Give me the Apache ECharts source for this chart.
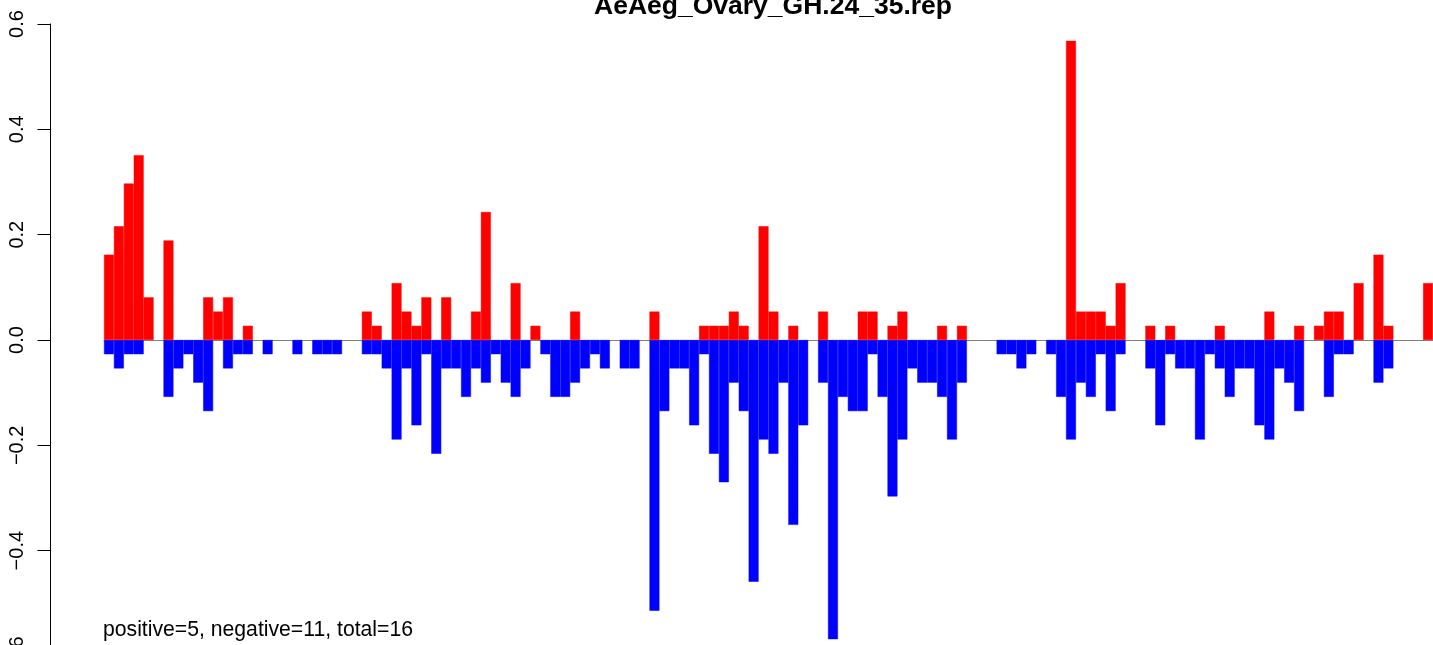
<!DOCTYPE html>
<html>
<head>
<meta charset="utf-8">
<script src="https://cdn.jsdelivr.net/npm/echarts@6/dist/echarts.min.js"></script>
<style>
html,body{margin:0;padding:0;background:#fff;}
#chart{width:1433px;height:645px;}
</style>
</head>
<body>
<div id="chart"></div>
<script>
var titleText = 'AeAeg_Ovary_GH.24_35.rep';
var noteText = 'positive=5, negative=11, total=16';
var yTicks = [-0.6, -0.4, -0.2, 0.0, 0.2, 0.4, 0.6];

var positiveValues = [
  0.162, 0.216, 0.297, 0.351, 0.081, 0, 0.189, 0, 0, 0,
  0.081, 0.054, 0.081, 0, 0.027, 0, 0, 0, 0, 0,
  0, 0, 0, 0, 0, 0, 0.054, 0.027, 0, 0.108,
  0.054, 0.027, 0.081, 0, 0.081, 0, 0, 0.054, 0.243, 0,
  0, 0.108, 0, 0.027, 0, 0, 0, 0.054, 0, 0,
  0, 0, 0, 0, 0, 0.054, 0, 0, 0, 0,
  0.027, 0.027, 0.027, 0.054, 0.027, 0, 0.216, 0.054, 0, 0.027,
  0, 0, 0.054, 0, 0, 0, 0.054, 0.054, 0, 0.027,
  0.054, 0, 0, 0, 0.027, 0, 0.027, 0, 0, 0,
  0, 0, 0, 0, 0, 0, 0, 0.568, 0.054, 0.054,
  0.054, 0.027, 0.108, 0, 0, 0.027, 0, 0.027, 0, 0,
  0, 0, 0.027, 0, 0, 0, 0, 0.054, 0, 0,
  0.027, 0, 0.027, 0.054, 0.054, 0, 0.108, 0, 0.162, 0.027,
  0, 0, 0, 0.108
];

var negativeValues = [
  -0.027, -0.054, -0.027, -0.027, 0, 0, -0.108, -0.054, -0.027, -0.081,
  -0.135, 0, -0.054, -0.027, -0.027, 0, -0.027, 0, 0, -0.027,
  0, -0.027, -0.027, -0.027, 0, 0, -0.027, -0.027, -0.054, -0.189,
  -0.054, -0.162, -0.027, -0.216, -0.054, -0.054, -0.108, -0.054, -0.081, -0.027,
  -0.081, -0.108, -0.054, 0, -0.027, -0.108, -0.108, -0.081, -0.054, -0.027,
  -0.054, 0, -0.054, -0.054, 0, -0.514, -0.135, -0.054, -0.054, -0.162,
  -0.027, -0.216, -0.270, -0.081, -0.135, -0.459, -0.189, -0.216, -0.081, -0.351,
  -0.162, 0, -0.081, -0.568, -0.108, -0.135, -0.135, -0.027, -0.108, -0.297,
  -0.189, -0.054, -0.081, -0.081, -0.108, -0.189, -0.081, 0, 0, 0,
  -0.027, -0.027, -0.054, -0.027, 0, -0.027, -0.108, -0.189, -0.081, -0.108,
  -0.027, -0.135, -0.027, 0, 0, -0.054, -0.162, -0.027, -0.054, -0.054,
  -0.189, -0.027, -0.054, -0.108, -0.054, -0.054, -0.162, -0.189, -0.054, -0.081,
  -0.135, 0, 0, -0.108, -0.027, -0.027, 0, 0, -0.081, -0.054,
  0, 0, 0, 0
];

var categories = positiveValues.map(function (_, i) { return String(i + 1); });

function dropZeros(arr) {
  return arr.map(function (v) { return v === 0 ? null : v; });
}

var chart = echarts.init(document.getElementById('chart'), null, {renderer: 'canvas'});
var FONT = 'Liberation Sans, Arial, Helvetica, sans-serif';

var option = {
  animation: false,
  backgroundColor: '#ffffff',
  grid: {left: 104, right: 0, top: 24, height: 632, containLabel: false, outerBoundsMode: 'none'},
  xAxis: {
    type: 'category',
    data: categories,
    boundaryGap: true,
    axisLine: {show: true, onZero: true, lineStyle: {color: '#808080', width: 1}},
    axisTick: {show: false},
    axisLabel: {show: false},
    splitLine: {show: false}
  },
  yAxis: {
    type: 'value',
    min: yTicks[0],
    max: yTicks[yTicks.length - 1],
    interval: 0.2,
    offset: 53.5,
    axisLine: {show: true, lineStyle: {color: '#000', width: 1}},
    axisTick: {show: true, length: 13, lineStyle: {color: '#000', width: 1}},
    splitLine: {show: false},
    axisLabel: {
      show: true,
      rotate: 90,
      margin: 23,
      fontFamily: FONT,
      fontSize: 20,
      color: '#000',
      formatter: function (v) {
        var r = Math.round(v * 10) / 10;
        return (r < 0 ? '\u2212' : '') + Math.abs(r).toFixed(1);
      }
    }
  },
  series: [
    {
      type: 'bar',
      name: 'positive',
      data: dropZeros(positiveValues),
      barWidth: '100%',
      barGap: '-100%',
      itemStyle: {color: '#ff0000', borderColor: '#ff0000', borderWidth: 0.5},
      z: 3
    },
    {
      type: 'bar',
      name: 'negative',
      data: dropZeros(negativeValues),
      barWidth: '100%',
      barGap: '-100%',
      itemStyle: {color: '#0000ff', borderColor: '#0000ff', borderWidth: 0.5},
      z: 2
    }
  ],
  graphic: [
    {
      type: 'text',
      x: 773, y: 15 - 0.31 * 26.5,
      style: {
        text: titleText,
        fontFamily: FONT,
        fontWeight: 'bold',
        fontSize: 26.5,
        fill: '#000',
        textAlign: 'center',
        textVerticalAlign: 'middle'
      }
    },
    {
      type: 'text',
      x: 103, y: 636.5 - 0.31 * 21.2,
      style: {
        text: noteText,
        fontFamily: FONT,
        fontSize: 21.2,
        fill: '#000',
        textAlign: 'left',
        textVerticalAlign: 'middle'
      }
    }
  ]
};
chart.setOption(option);
</script>
</body>
</html>
